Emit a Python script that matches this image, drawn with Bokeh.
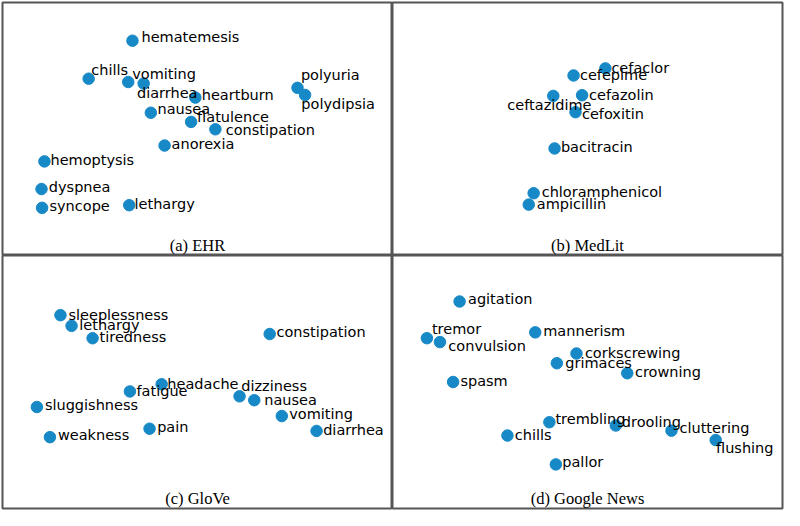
from bokeh.plotting import figure
from bokeh.layouts import gridplot
from bokeh.models import ColumnDataSource, Range1d, Label
from bokeh.core.properties import value
from bokeh.embed import file_html
from bokeh.resources import INLINE

# ---------------- data (2-D embedding coordinates) ----
ehr_terms = ["hematemesis", "chills", "vomiting", "diarrhea", "heartburn", "polyuria",
             "polydipsia", "nausea", "flatulence", "constipation", "anorexia",
             "hemoptysis", "dyspnea", "syncope", "lethargy"]
ehr_x = [132.3, 87.7, 128.0, 143.7, 196.3, 300.3, 308.0, 151.0, 192.0, 216.7, 165.0,
         42.7, 39.7, 40.3, 129.0]
ehr_y = [220.7, 181.7, 178.3, 176.7, 162.3, 172.3, 165.0, 146.7, 137.3, 129.7, 113.0,
         96.7, 68.3, 49.0, 51.7]

medlit_terms = ["cefaclor", "cefepime", "ceftazidime", "cefazolin", "cefoxitin",
                "bacitracin", "chloramphenicol", "ampicillin"]
medlit_x = [216.7, 184.3, 163.7, 193.0, 186.3, 165.0, 143.7, 138.7]
medlit_y = [192.3, 185.0, 164.0, 164.7, 147.3, 110.0, 64.0, 52.3]

glove_terms = ["sleeplessness", "lethargy", "tiredness", "constipation", "headache",
               "fatigue", "dizziness", "nausea", "sluggishness", "vomiting", "pain",
               "diarrhea", "weakness"]
glove_x = [59.0, 70.3, 91.7, 272.0, 162.0, 129.7, 241.3, 256.3, 35.0, 284.3, 149.7,
           319.7, 48.3]
glove_y = [198.7, 187.7, 175.0, 179.3, 127.7, 120.3, 115.3, 111.3, 104.3, 95.0, 82.0,
           79.7, 73.3]

gnews_terms = ["agitation", "tremor", "convulsion", "mannerism", "corkscrewing",
               "grimaces", "crowning", "spasm", "trembling", "drooling", "cluttering",
               "flushing", "chills", "pallor"]
gnews_x = [68.3, 35.0, 48.3, 145.3, 187.3, 167.3, 239.0, 61.7, 159.7, 227.3, 284.0,
           329.0, 117.0, 166.3]
gnews_y = [212.7, 175.0, 171.0, 181.0, 159.3, 149.3, 139.0, 130.0, 88.7, 85.3, 80.0,
           70.3, 75.0, 45.3]

captions = ["(a) EHR", "(b) MedLit", "(c) GloVe", "(d) Google News"]

# ---------------- label placement (screen-pixel offsets, layout only) -------
ehr_dx = [9, 2.6, 4, -6.7, 6.4, 3.4, -3.7, 6.7, 6, 10.3, 7, 6, 7.3, 7.4, 5.3]
ehr_dy = [-3.3, -9, -8.4, 9.4, -2.4, -12.7, 8.7, -4, -4.4, 0.7, -1.7, -1.6, -1.7, -1.7, -1.3]
medlit_dx = [6, 6.4, -46, 7, 6.4, 6.3, 8, 8]
medlit_dy = [0, 0, 9.3, 0, 1.6, -1.3, -1, -1]
glove_dx = [8, 7.7, 7, 6.7, 5.7, 6.6, 1.7, 10, 8, 7.4, 7.6, 6.6, 8]
glove_dy = [-0.6, -1, -1.7, -1.7, -0.6, -0.7, -10, 0, -2.4, -1.7, -1.3, -1.3, -1.7]
gnews_dx = [8.4, 5, 8.4, 8, 8.4, 8.4, 7.7, 7.3, 6, 6, 8, 0.3, 7.3, 6.4]
gnews_dy = [-2.6, -9.3, 4.3, -1.3, -0.7, -0.7, -1.3, -1, -3, -3, -2.7, 8.3, -0.7, -2.4]

DOT = "#1789c6"
BORDER = "#555555"
W, H = 392, 255


def panel(terms, xs, ys, dxs, dys, caption, col, row):
    p = figure(width=W, height=H, output_backend="svg", toolbar_location=None,
               x_axis_location=None, y_axis_location=None,
               x_range=Range1d(0, 397), y_range=Range1d(0, 260),
               min_border_left=2 if col == 0 else 0,
               min_border_right=2 if col == 1 else 0,
               min_border_top=2 if row == 0 else 0,
               min_border_bottom=2 if row == 1 else 0,
               background_fill_color="white", border_fill_color="white")
    p.grid.visible = False
    p.outline_line_color = BORDER
    p.outline_line_width = 2
    src = ColumnDataSource(dict(x=xs, y=ys, t=terms, dx=dxs, dy=dys))
    p.scatter("x", "y", source=src, size=11.5, fill_color=DOT, line_color=DOT)
    p.text("x", "y", text="t", source=src, x_offset="dx", y_offset="dy",
           text_font=value("DejaVu Sans"), text_font_size="14.5px",
           text_baseline="middle", text_align="left", text_color="black")
    p.add_layout(Label(x=198.5, y=10.5, text=caption, text_align="center",
                       text_baseline="middle", text_font="Liberation Serif",
                       text_font_size="16.5px", text_color="black"))
    return p


pa = panel(ehr_terms, ehr_x, ehr_y, ehr_dx, ehr_dy, captions[0], 0, 0)
pb = panel(medlit_terms, medlit_x, medlit_y, medlit_dx, medlit_dy, captions[1], 1, 0)
pc = panel(glove_terms, glove_x, glove_y, glove_dx, glove_dy, captions[2], 0, 1)
pd = panel(gnews_terms, gnews_x, gnews_y, gnews_dx, gnews_dy, captions[3], 1, 1)

grid = gridplot([[pa, pb], [pc, pd]], toolbar_location=None)

open("out.html", "w").write(file_html(grid, INLINE))
